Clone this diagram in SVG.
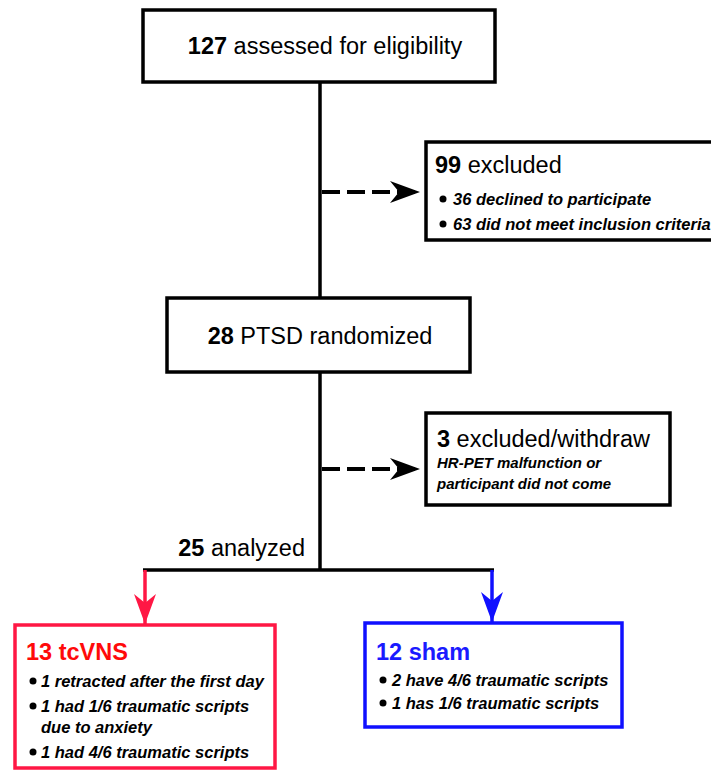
<svg xmlns="http://www.w3.org/2000/svg" width="711" height="771" viewBox="0 0 711 771">
<style>
text{font-family:"Liberation Sans",Arial,sans-serif;fill:#000}
.t{font-size:23.5px}
.b{font-weight:bold}
.i{font-size:16.5px;font-style:italic;font-weight:bold}
.s{font-size:15px;font-style:italic;font-weight:bold}
.box{fill:#fff;stroke:#000;stroke-width:3.5}
.ln{stroke:#000;stroke-width:3.5;fill:none}
.dash{stroke:#000;stroke-width:4;stroke-dasharray:18 7;fill:none}
</style>
<defs>
<marker id="ah" markerWidth="30" markerHeight="24" refX="30" refY="12" markerUnits="userSpaceOnUse" orient="auto">
<path d="M0,1 L30,12 L0,23 L9,12 Z" fill="#000"/>
</marker>
<marker id="ahr" markerWidth="30" markerHeight="24" refX="30" refY="12" markerUnits="userSpaceOnUse" orient="auto">
<path d="M0,1 L30,12 L0,23 L9,12 Z" fill="#ff1744"/>
</marker>
<marker id="ahb" markerWidth="30" markerHeight="24" refX="30" refY="12" markerUnits="userSpaceOnUse" orient="auto">
<path d="M0,1 L30,12 L0,23 L9,12 Z" fill="#1010ff"/>
</marker>
</defs>
<g id="connectors">
<line class="ln" x1="320" y1="82" x2="320" y2="298"/>
<line class="ln" x1="320" y1="372" x2="320" y2="571"/>
<path class="dash" d="M322,192 H420" marker-end="url(#ah)"/>
<path class="dash" d="M322,469 H420" marker-end="url(#ah)"/>
<line class="ln" x1="143" y1="570" x2="494" y2="570"/>
<path d="M145,570 V624" stroke="#ff1744" stroke-width="3.5" fill="none" marker-end="url(#ahr)"/>
<path d="M492,570 V622" stroke="#1010ff" stroke-width="3.5" fill="none" marker-end="url(#ahb)"/>
<text class="t" x="305" y="556" text-anchor="end"><tspan class="b">25</tspan> analyzed</text>
</g>
<g id="assessed">
<rect class="box" x="143" y="10" width="352" height="72"/>
<text class="t" x="325" y="54" text-anchor="middle"><tspan class="b">127</tspan> assessed for eligibility</text>
</g>
<g id="excluded99">
<rect class="box" x="426" y="142" width="290" height="98"/>
<text class="t" x="435" y="173"><tspan class="b">99</tspan> excluded</text>
<circle cx="443" cy="199" r="3.5"/>
<text class="i" x="453" y="205">36 declined to participate</text>
<circle cx="443" cy="224" r="3.5"/>
<text class="i" x="453" y="230">63 did not meet inclusion criteria</text>
</g>
<g id="randomized">
<rect class="box" x="167" y="298" width="303" height="74"/>
<text class="t" x="320" y="344" text-anchor="middle"><tspan class="b">28</tspan> PTSD randomized</text>
</g>
<g id="excluded3">
<rect class="box" x="426" y="413" width="244" height="92"/>
<text class="t" x="437" y="447"><tspan class="b">3</tspan> excluded/withdraw</text>
<text class="s" x="437" y="468">HR-PET malfunction or</text>
<text class="s" x="437" y="489">participant did not come</text>
</g>
<g id="tcvns">
<rect x="15" y="625" width="260" height="143" fill="#fff" stroke="#ff1744" stroke-width="3.5"/>
<text class="t b" x="26" y="660" style="fill:#ff0a0a">13 tcVNS</text>
<circle cx="33" cy="681" r="3.5"/>
<text class="i" x="41" y="687">1 retracted after the first day</text>
<circle cx="33" cy="706" r="3.5"/>
<text class="i" x="41" y="712">1 had 1/6 traumatic scripts</text>
<text class="i" x="41" y="733">due to anxiety</text>
<circle cx="33" cy="752" r="3.5"/>
<text class="i" x="41" y="758">1 had 4/6 traumatic scripts</text>
</g>
<g id="sham">
<rect x="365" y="623" width="257" height="104" fill="#fff" stroke="#1010ff" stroke-width="3.5"/>
<text class="t b" x="376" y="660" style="fill:#1a1aff">12 sham</text>
<circle cx="383" cy="680" r="3.5"/>
<text class="i" x="392" y="686">2 have 4/6 traumatic scripts</text>
<circle cx="383" cy="703" r="3.5"/>
<text class="i" x="392" y="709">1 has 1/6 traumatic scripts</text>
</g>
</svg>
